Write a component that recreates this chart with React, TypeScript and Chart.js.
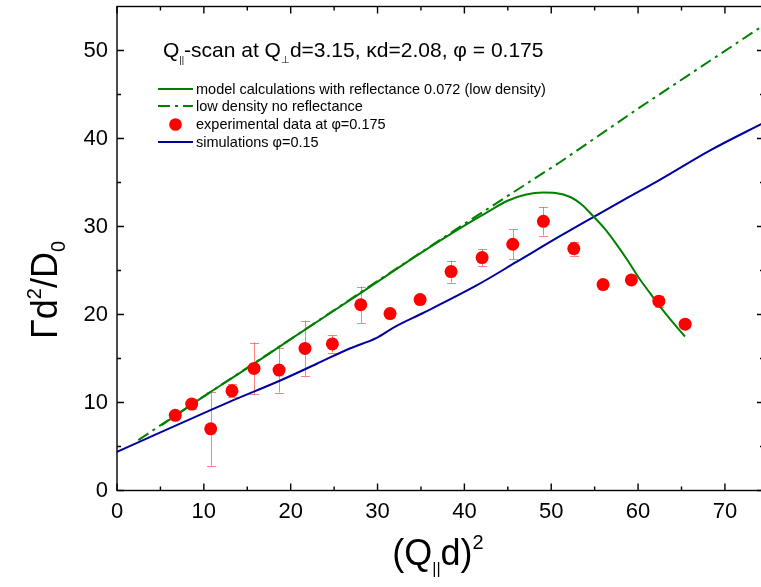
import React, { useEffect, useRef } from "react";
import { Chart, registerables } from "chart.js";

Chart.register(...registerables);

// Experimental data at phi = 0.175
const expX = [6.71, 8.6, 10.79, 13.24, 15.78, 18.66, 21.65, 24.8, 28.07, 31.44, 34.9, 38.47, 42.04, 45.57, 49.1, 52.6, 55.97, 59.23, 62.39, 65.42];
const expY = [8.54, 9.82, 7.01, 11.33, 13.87, 13.68, 16.14, 16.66, 21.11, 20.11, 21.7, 24.88, 26.47, 27.98, 30.59, 27.49, 23.4, 23.93, 21.51, 18.9];
const expErr = [0.3, 0.6, 4.2, 0.72, 2.93, 2.55, 3.16, 0.98, 2.07, 0.4, 0, 1.25, 0.95, 1.68, 1.62, 0.8, 0, 0, 0.61, 0];

// Model calculations with reflectance 0.072 (low density)
const modelX = [5.15, 10, 15, 20, 28, 35, 40, 42.6, 44.9, 47, 49.1, 50.5, 52.2, 53.5, 54.9, 56.2, 57.5, 58.9, 60.2, 61.4, 62.6, 64, 65.4];
const modelY = [7.43, 10.7, 13.9, 17.2, 22.4, 27.0, 30.1, 31.6, 32.9, 33.6, 33.85, 33.8, 33.35, 32.5, 31.1, 29.7, 28.0, 26.0, 24.0, 22.4, 20.8, 19.1, 17.5];

// Low density, no reflectance
const lowX = [2.46, 10, 20, 30, 40, 51, 60, 74.5];
const lowY = [5.73, 10.7, 17.2, 23.8, 30.3, 37.3, 43.4, 52.9];

// Simulations phi = 0.15
const simX = [0, 5, 10.7, 13, 18.8, 23, 26.8, 29.9, 32, 35.3, 41.4, 46, 51, 54.9, 58.5, 62.5, 68.3, 74.5];
const simY = [4.38, 6.6, 9.1, 10.1, 12.5, 14.4, 16.14, 17.35, 18.6, 20.2, 23.3, 25.97, 28.9, 31.1, 33.1, 35.3, 38.65, 41.8];

const xMajor = [0, 10, 20, 30, 40, 50, 60, 70];
const xMinor = [5, 15, 25, 35, 45, 55, 65];
const yMajor = [0, 10, 20, 30, 40, 50];
const yMinor = [5, 15, 25, 35, 45];

const legendLabels = [
  "model calculations with reflectance 0.072 (low density)",
  "low density no reflectance",
  "experimental data at \u03c6=0.175",
  "simulations \u03c6=0.15",
];

const FONT = "'Liberation Sans', Arial, sans-serif";
const GREEN = "#008000";
const BLUE = "#0000a0";
const RED = "#ff0000";
const DASH = [12, 5, 3, 5];

type Seg = { t: string; s: number; dy?: number };

function segWidth(ctx: CanvasRenderingContext2D, segs: Seg[]) {
  let w = 0;
  for (const g of segs) {
    ctx.font = `${g.s}px ${FONT}`;
    w += ctx.measureText(g.t).width;
  }
  return w;
}

function drawSegs(ctx: CanvasRenderingContext2D, segs: Seg[], x: number, y: number) {
  let cx = x;
  for (const g of segs) {
    ctx.font = `${g.s}px ${FONT}`;
    ctx.fillText(g.t, cx, y + (g.dy || 0));
    cx += ctx.measureText(g.t).width;
  }
}

const errorBars = {
  id: "errorBars",
  beforeDatasetsDraw(chart: any) {
    const ctx = chart.ctx as CanvasRenderingContext2D;
    const xs = chart.scales.x;
    const ys = chart.scales.y;
    ctx.save();
    ctx.strokeStyle = "rgba(255,60,60,0.65)";
    ctx.lineWidth = 1;
    for (let i = 0; i < expX.length; i++) {
      const e = expErr[i];
      if (!e) continue;
      const px = Math.round(xs.getPixelForValue(expX[i])) + 0.5;
      const top = ys.getPixelForValue(expY[i] + e);
      const bot = ys.getPixelForValue(expY[i] - e);
      ctx.beginPath();
      ctx.moveTo(px, top);
      ctx.lineTo(px, bot);
      ctx.moveTo(px - 4.5, Math.round(top) + 0.5);
      ctx.lineTo(px + 4.5, Math.round(top) + 0.5);
      ctx.moveTo(px - 4.5, Math.round(bot) + 0.5);
      ctx.lineTo(px + 4.5, Math.round(bot) + 0.5);
      ctx.stroke();
    }
    ctx.restore();
  },
};

const decor = {
  id: "decor",
  afterDraw(chart: any) {
    const ctx = chart.ctx as CanvasRenderingContext2D;
    const xs = chart.scales.x;
    const ys = chart.scales.y;
    const a = chart.chartArea;
    ctx.save();
    // frame
    ctx.strokeStyle = "#000";
    ctx.lineWidth = 1.4;
    ctx.strokeRect(a.left, a.top, a.right - a.left, a.bottom - a.top);
    // ticks (inward)
    const tick = (v: number, len: number, axis: "x" | "y") => {
      ctx.beginPath();
      if (axis === "x") {
        const p = xs.getPixelForValue(v);
        ctx.moveTo(p, a.bottom);
        ctx.lineTo(p, a.bottom - len);
        ctx.moveTo(p, a.top);
        ctx.lineTo(p, a.top + len);
      } else {
        const p = ys.getPixelForValue(v);
        ctx.moveTo(a.left, p);
        ctx.lineTo(a.left + len, p);
        ctx.moveTo(a.right, p);
        ctx.lineTo(a.right - len, p);
      }
      ctx.stroke();
    };
    xMajor.forEach((v) => tick(v, 7, "x"));
    xMinor.forEach((v) => tick(v, 4, "x"));
    yMajor.forEach((v) => tick(v, 7, "y"));
    yMinor.forEach((v) => tick(v, 4, "y"));

    // tick labels
    ctx.fillStyle = "#000";
    ctx.font = `22px ${FONT}`;
    ctx.textAlign = "center";
    ctx.textBaseline = "middle";
    xMajor.forEach((v) => ctx.fillText(String(v), xs.getPixelForValue(v), a.bottom + 21));
    ctx.textAlign = "right";
    yMajor.forEach((v) => ctx.fillText(String(v), a.left - 9, ys.getPixelForValue(v)));

    // x title (Q|| d)^2
    ctx.textAlign = "left";
    ctx.textBaseline = "alphabetic";
    const xt: Seg[] = [
      { t: "(Q", s: 36 },
      { t: "||", s: 16, dy: 9 },
      { t: "d)", s: 36 },
      { t: "2", s: 20, dy: -16 },
    ];
    const xw = segWidth(ctx, xt);
    drawSegs(ctx, xt, 438 - xw / 2, 565);

    // y title Γd²/D0
    const yt: Seg[] = [
      { t: "\u0393d", s: 36 },
      { t: "2", s: 20, dy: -16 },
      { t: "/D", s: 36 },
      { t: "0", s: 20, dy: 8 },
    ];
    const yw = segWidth(ctx, yt);
    ctx.save();
    ctx.translate(57, 290);
    ctx.rotate(-Math.PI / 2);
    drawSegs(ctx, yt, -yw / 2, 0);
    ctx.restore();

    // plot title
    const tt: Seg[] = [
      { t: "Q", s: 21 },
      { t: "||", s: 9, dy: 6 },
      { t: "-scan at Q", s: 21 },
      { t: "\u22a5", s: 10, dy: 6 },
      { t: "d=3.15, \u03bad=2.08, \u03c6 = 0.175", s: 21 },
    ];
    drawSegs(ctx, tt, 163, 57);

    // legend
    const rows = [89, 106, 124.5, 142];
    const lx0 = 158, lx1 = 193, tx = 196;
    ctx.lineWidth = 2;
    ctx.strokeStyle = GREEN;
    ctx.beginPath();
    ctx.moveTo(lx0, rows[0]);
    ctx.lineTo(lx1, rows[0]);
    ctx.stroke();
    ctx.setLineDash(DASH);
    ctx.beginPath();
    ctx.moveTo(lx0, rows[1]);
    ctx.lineTo(lx1, rows[1]);
    ctx.stroke();
    ctx.setLineDash([]);
    ctx.fillStyle = RED;
    ctx.beginPath();
    ctx.arc((lx0 + lx1) / 2, rows[2], 6.3, 0, Math.PI * 2);
    ctx.fill();
    ctx.strokeStyle = BLUE;
    ctx.beginPath();
    ctx.moveTo(lx0, rows[3]);
    ctx.lineTo(lx1, rows[3]);
    ctx.stroke();
    ctx.fillStyle = "#000";
    ctx.font = `14.5px ${FONT}`;
    ctx.textBaseline = "middle";
    legendLabels.forEach((l, i) => ctx.fillText(l, tx, rows[i] + 0.5));
    ctx.restore();
  },
};

export default function App() {
  const ref = useRef<HTMLCanvasElement | null>(null);
  useEffect(() => {
    if (!ref.current) return;
    const pts = (xs: number[], ys: number[]) => xs.map((x, i) => ({ x, y: ys[i] }));
    const chart = new Chart(ref.current, {
      type: "line",
      data: {
        datasets: [
          {
            label: legendLabels[2],
            data: pts(expX, expY),
            showLine: false,
            pointRadius: 6.5,
            pointBackgroundColor: RED,
            pointBorderWidth: 0,
            borderColor: RED,
            order: 0,
          },
          {
            label: legendLabels[0],
            data: pts(modelX, modelY),
            borderColor: GREEN,
            borderWidth: 2,
            pointRadius: 0,
            cubicInterpolationMode: "monotone",
            order: 1,
          },
          {
            label: legendLabels[1],
            data: pts(lowX, lowY),
            borderColor: GREEN,
            borderWidth: 2,
            borderDash: DASH,
            pointRadius: 0,
            order: 2,
          },
          {
            label: legendLabels[3],
            data: pts(simX, simY),
            borderColor: BLUE,
            borderWidth: 2,
            pointRadius: 0,
            cubicInterpolationMode: "monotone",
            order: 3,
          },
        ],
      },
      options: {
        responsive: false,
        animation: false,
        events: [],
        layout: { padding: { left: 117, top: 6, right: 11, bottom: 96.5 } },
        plugins: { legend: { display: false }, tooltip: { enabled: false }, title: { display: false } },
        scales: {
          x: { type: "linear", min: 0, max: 74.5, display: false },
          y: { type: "linear", min: 0, max: 55, display: false },
        },
      },
      plugins: [errorBars, decor],
    });
    return () => chart.destroy();
  }, []);
  return (
    <div style={{ position: "fixed", left: 0, top: 0, width: 761, height: 587, overflow: "hidden", background: "#fff" }}>
      <canvas ref={ref} width={775} height={587} style={{ display: "block", width: 775, height: 587 }} />
    </div>
  );
}
